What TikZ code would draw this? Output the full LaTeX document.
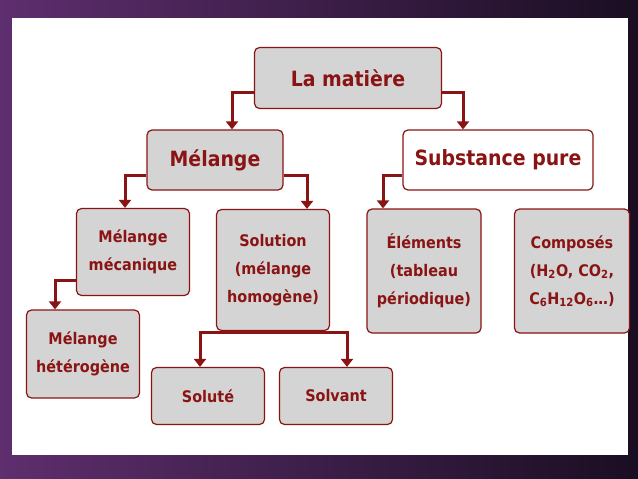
\documentclass[tikz,border=0pt]{standalone}
\usepackage{fontspec}
\setmainfont{DejaVu Sans Condensed}
\usetikzlibrary{arrows.meta}
\definecolor{dred}{HTML}{8A1414}
\definecolor{bgray}{HTML}{D4D4D4}
\definecolor{purp}{HTML}{5E2E6E}
\definecolor{dark}{HTML}{1A0E22}
\tikzset{
  box/.style={draw=dred, line width=1.2pt, fill=bgray, rounded corners=5pt, align=center, text=dred, font=\bfseries\fontsize{16}{28}\selectfont, inner sep=0pt},
  big/.style={font=\bfseries\fontsize{21}{24}\selectfont},
  conn/.style={draw=dred, line width=3pt, -{Triangle[length=8pt,width=12pt]}}
}
\newcommand{\sbs}[1]{\textsubscript{#1}}
\begin{document}
\begin{tikzpicture}[x=1pt,y=-1pt]
\useasboundingbox (0,0) rectangle (638,479);
\shade[left color=purp, right color=dark] (0,0) rectangle (638,479);
\fill[white] (12,18) rectangle (628,455);
\node[box, big, minimum width=187, minimum height=61] (mat) at (348,78) {La matière};
\node[box, big, minimum width=136, minimum height=60] (mel) at (215,160) {Mélange};
\node[box, big, fill=white, minimum width=190, minimum height=60] (sub) at (498,160) {Substance pure};
\node[box, minimum width=113, minimum height=87] (mec) at (133,252) {Mélange\\mécanique};
\node[box, minimum width=113, minimum height=121] (sol) at (273,270) {Solution\\(mélange\\homogène)};
\node[box, minimum width=114, minimum height=124] (ele) at (424,271) {Éléments\\(tableau\\périodique)};
\node[box, minimum width=115, minimum height=124] (com) at (572,271) {Composés\\(H\sbs{2}O, CO\sbs{2},\\C\sbs{6}H\sbs{12}O\sbs{6}…)};
\node[box, minimum width=113, minimum height=88] (het) at (83,354) {Mélange\\hétérogène};
\node[box, minimum width=113, minimum height=57] (slt) at (208,396) {Soluté};
\node[box, minimum width=113, minimum height=57] (slv) at (336,396) {Solvant};
\draw[conn] (mat.west |- 0,92) -| (mel.north -| 232,0);
\draw[conn] (mat.east |- 0,92) -| (sub.north -| 463,0);
\draw[conn] (mel.west |- 0,175) -| (mec.north -| 125,0);
\draw[conn] (mel.east |- 0,175) -| (sol.north -| 307,0);
\draw[conn] (sub.west |- 0,175) -| (ele.north -| 383,0);
\draw[conn] (mec.west |- 0,280) -| (het.north -| 55,0);
\coordinate (sj) at (273,332);
\draw[dred, line width=3pt] (sol.south) -- (sj);
\draw[conn] (sj) -| (slt.north -| 200,0);
\draw[conn] (sj) -| (slv.north -| 347,0);
\end{tikzpicture}
\end{document}
